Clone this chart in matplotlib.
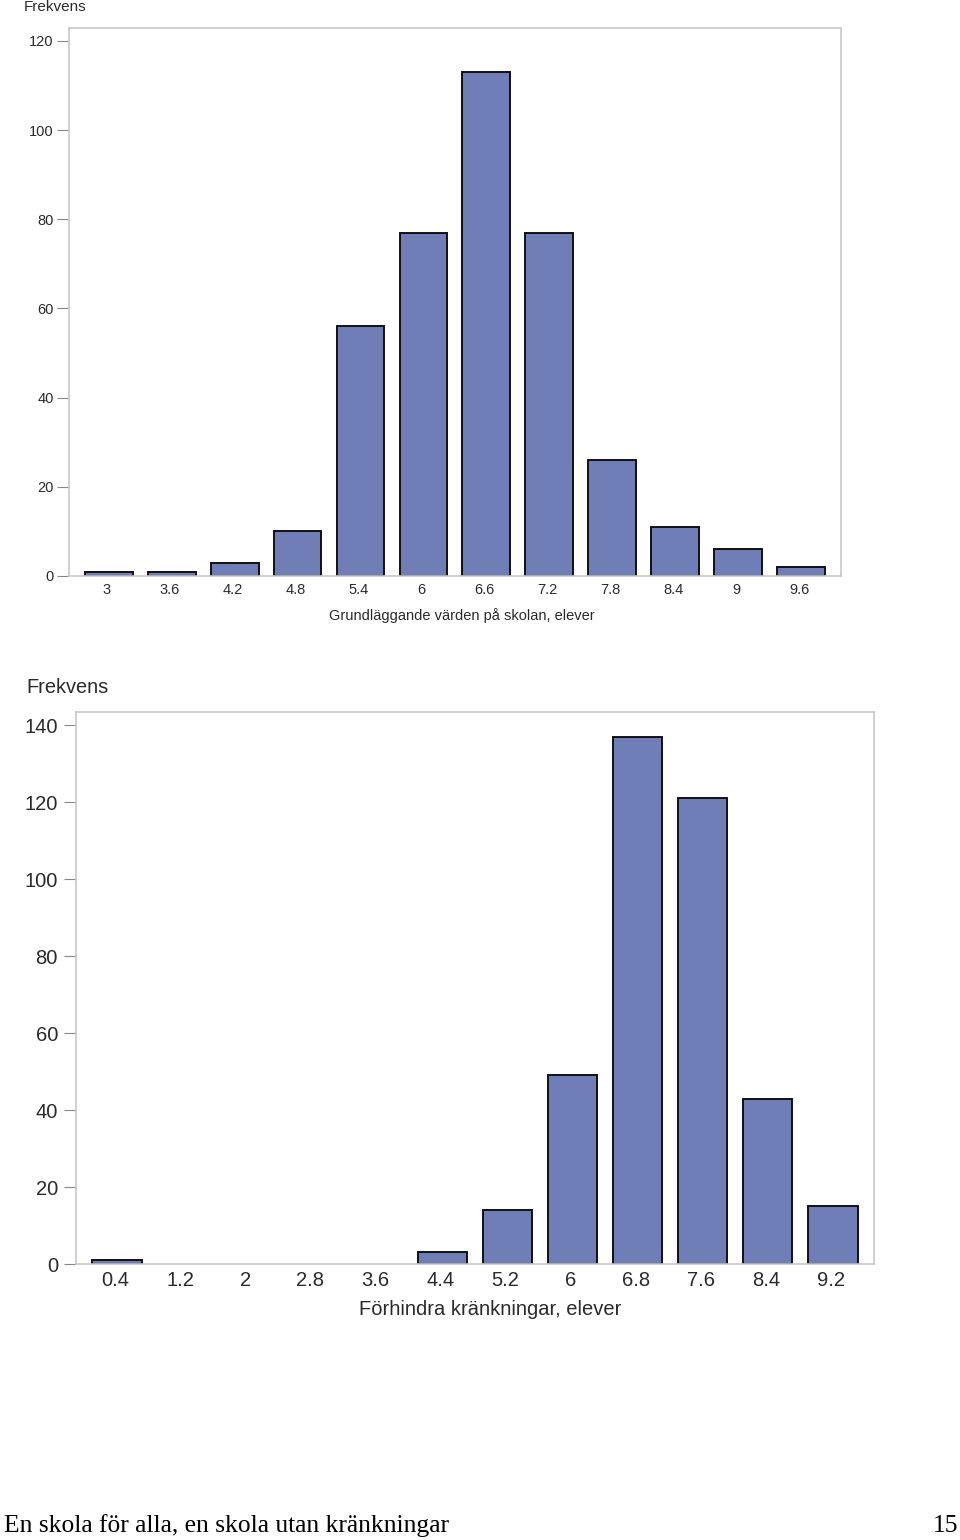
import numpy as np
import matplotlib
matplotlib.use('Agg')
import matplotlib.pyplot as plt

plt.rcParams['font.family'] = ['Liberation Sans', 'DejaVu Sans']

# Grundläggande värden på skolan, elever
cats1 = ['3', '3.6', '4.2', '4.8', '5.4', '6', '6.6', '7.2', '7.8', '8.4', '9', '9.6']
freq1 = [1, 1, 3, 10, 56, 77, 113, 77, 26, 11, 6, 2]
yticks1 = [0, 20, 40, 60, 80, 100, 120]

# Förhindra kränkningar, elever
cats2 = ['0.4', '1.2', '2', '2.8', '3.6', '4.4', '5.2', '6', '6.8', '7.6', '8.4', '9.2']
freq2 = [1, 0, 0, 0, 0, 3, 14, 49, 137, 121, 43, 15]
yticks2 = [0, 20, 40, 60, 80, 100, 120, 140]

bar_color = '#6f7eb6'
frame_color = '#c8c8c8'
text_color = '#2a2a2a'


def hist_panel(ax, cats, freq, yticks, ytop, xlabel, fs, ypad, xlpad):
    x = np.arange(len(cats))
    bars = ax.bar(x + 0.03, freq, width=0.76, color=bar_color, edgecolor='#111111',
                  linewidth=1.4, zorder=2)
    # empty classes are not drawn
    for b, v in zip(bars, freq):
        if v == 0:
            b.set_visible(False)
    ax.set_xlim(-0.6, len(cats) - 1 + 0.66)
    ax.set_ylim(0, ytop)
    ax.set_xticks(x)
    ax.set_xticklabels(cats)
    ax.set_yticks(yticks)
    ax.tick_params(axis='x', length=0, pad=5, labelsize=fs, labelcolor=text_color)
    ax.tick_params(axis='y', length=9, width=0.8, color='#888888', pad=ypad,
                   labelsize=fs, labelcolor=text_color)
    for s in ax.spines.values():
        s.set_color(frame_color)
        s.set_linewidth(1.2)
    ax.set_xlabel(xlabel, fontsize=fs, color=text_color, labelpad=xlpad)


fig = plt.figure(figsize=(9.6, 15.4), dpi=100)

ax1 = fig.add_axes([0.0719, 0.626, 0.804, 0.3558])
hist_panel(ax1, cats1, freq1, yticks1, 122.9,
           'Grundläggande värden på skolan, elever', 10.5, 2, 7)
ax1.xaxis.set_label_coords(0.509, -0.058)
fig.text(24 / 960, 1 - 7 / 1540, 'Frekvens', fontsize=11, color=text_color,
         ha='left', va='center')

ax2 = fig.add_axes([0.0792, 0.1792, 0.831, 0.3584])
hist_panel(ax2, cats2, freq2, yticks2, 143.4,
           'Förhindra kränkningar, elever', 14.5, 4, 9)
ax2.xaxis.set_label_coords(0.519, -0.065)
fig.text(26 / 960, 1 - 688 / 1540, 'Frekvens', fontsize=14.4, color=text_color,
         ha='left', va='center')

fig.text(4 / 960, 1 - 1526 / 1540, 'En skola för alla, en skola utan kränkningar',
         fontsize=18.4, family='Liberation Serif', ha='left', va='center')
fig.text(958 / 960, 1 - 1526 / 1540, '15',
         fontsize=18.4, family='Liberation Serif', ha='right', va='center')

fig.savefig('out.png', dpi=100, facecolor='white')
